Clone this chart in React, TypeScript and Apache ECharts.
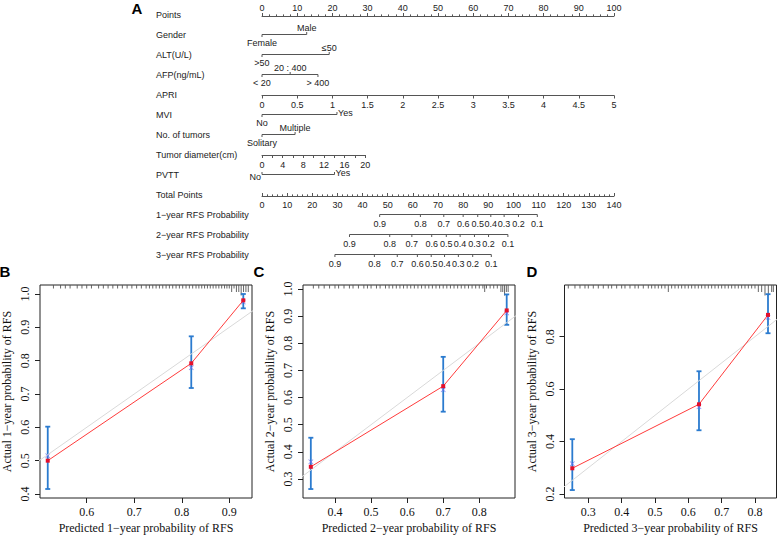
import React, { useEffect, useRef } from "react";
import * as echarts from "echarts";

// ---------------- Nomogram data ----------------
const rowNames = [
  "Points",
  "Gender",
  "ALT(U/L)",
  "AFP(ng/mL)",
  "APRI",
  "MVI",
  "No. of tumors",
  "Tumor diameter(cm)",
  "PVTT",
  "Total Points",
  "1−year RFS Probability",
  "2−year RFS Probability",
  "3−year RFS Probability",
];

const pointsRange = [0, 100];
const totalPointsRange = [0, 140];
const apriRange = [0, 5]; // APRI 0..5 spans the 0..100 points scale
const diameterRange = [0, 20]; // cm
const diameterPointsAtMax = 29.3; // points given to 20 cm

const genderLevels = ["Female", "Male"];
const genderPoints = [0, 12.7];
const altLevels = [">50", "≤50"];
const altPoints = [0, 19.1];
const afpLevels = ["< 20", "20 : 400", "> 400"];
const afpPoints = [0, 8, 15.9];
const mviLevels = ["No", "Yes"];
const mviPoints = [0, 21.3];
const tumorLevels = ["Solitary", "Multiple"];
const tumorPoints = [0, 9.4];
const pvttLevels = ["No", "Yes"];
const pvttPoints = [0, 20.6];

const probLabels = ["0.9", "0.8", "0.7", "0.6", "0.5", "0.4", "0.3", "0.2", "0.1"];
const rfs1yTotals = [46.8, 63, 72.3, 80, 85.8, 91, 96.3, 102, 109.5];
const rfs2yTotals = [34.8, 50.8, 59.6, 67.5, 73.3, 78.8, 84.5, 90.1, 97.8];
const rfs3yTotals = [29, 44.7, 53.8, 61.8, 67.3, 72.6, 78.1, 83.8, 91.2];

// ---------------- Calibration data ----------------
const b1Pred = [0.518, 0.82, 0.9295];
const b1Obs = [0.5, 0.792, 0.981];
const b1Corr = [0.515, 0.779, 0.976];
const b1Lo = [0.415, 0.718, 0.957];
const b1Hi = [0.602, 0.873, 1.0];
const b1XRange = [0.5017, 0.9478];
const b1YRange = [0.388, 1.027];
const b1XTicks = [0.6, 0.7, 0.8, 0.9];
const b1YTicks = [0.4, 0.5, 0.6, 0.7, 0.8, 0.9, 1.0];
const b1Rug = [0.53, 0.545, 0.555, 0.565, 0.58, 0.59, 0.6, 0.61, 0.625, 0.635, 0.645, 0.655, 0.665, 0.675, 0.685, 0.695, 0.705, 0.715, 0.725, 0.732, 0.739, 0.746, 0.753, 0.76, 0.767, 0.774, 0.781, 0.788, 0.795, 0.802, 0.809, 0.816, 0.823, 0.83, 0.836, 0.842, 0.848, 0.854, 0.86, 0.866, 0.872, 0.878, 0.884, 0.89, 0.895, 0.9, 0.905, 0.91, 0.915, 0.92, 0.925, 0.93, 0.935, 0.94];
const b1RugCount = [1, 1, 1, 1, 1, 1, 1, 1, 1, 1, 1, 1, 1, 1, 1, 1, 1, 1, 1, 1, 1, 1, 1, 1, 1, 1, 1, 1, 1, 1, 1, 1, 1, 1, 1, 1, 1, 1, 1, 1, 1, 1, 1, 1, 1, 1, 2, 1, 2, 2, 3, 2, 2, 2];

const c2Pred = [0.333, 0.7, 0.876];
const c2Obs = [0.345, 0.642, 0.921];
const c2Corr = [0.364, 0.629, 0.912];
const c2Lo = [0.263, 0.548, 0.868];
const c2Hi = [0.452, 0.75, 0.98];
const c2XRange = [0.3113, 0.899];
const c2YRange = [0.23, 1.0147];
const c2XTicks = [0.4, 0.5, 0.6, 0.7, 0.8];
const c2YTicks = [0.3, 0.4, 0.5, 0.6, 0.7, 0.8, 0.9, 1.0];
const c2Rug = [0.34, 0.355, 0.37, 0.385, 0.4, 0.41, 0.425, 0.44, 0.45, 0.465, 0.48, 0.49, 0.5, 0.515, 0.525, 0.54, 0.55, 0.56, 0.57, 0.58, 0.59, 0.6, 0.61, 0.62, 0.63, 0.64, 0.65, 0.66, 0.67, 0.68, 0.69, 0.7, 0.71, 0.72, 0.73, 0.74, 0.75, 0.76, 0.77, 0.78, 0.79, 0.8, 0.81, 0.815, 0.82, 0.83, 0.84, 0.85, 0.86, 0.865, 0.87, 0.875, 0.88];
const c2RugCount = [1, 1, 1, 1, 1, 1, 1, 1, 1, 1, 1, 1, 1, 1, 1, 1, 1, 1, 1, 1, 1, 1, 1, 1, 1, 1, 1, 1, 1, 1, 1, 1, 1, 1, 1, 1, 1, 1, 1, 1, 1, 1, 1, 2, 1, 1, 1, 1, 2, 2, 3, 2, 2];

const d3Pred = [0.252, 0.632, 0.839];
const d3Obs = [0.298, 0.542, 0.883];
const d3Corr = [0.315, 0.533, 0.873];
const d3Lo = [0.215, 0.443, 0.813];
const d3Hi = [0.409, 0.668, 0.962];
const d3XRange = [0.2286, 0.8645];
const d3YRange = [0.1847, 0.997];
const d3XTicks = [0.3, 0.4, 0.5, 0.6, 0.7, 0.8];
const d3YTicks = [0.2, 0.4, 0.6, 0.8];
const d3Rug = [0.24, 0.26, 0.275, 0.29, 0.3, 0.315, 0.33, 0.345, 0.36, 0.37, 0.385, 0.4, 0.41, 0.425, 0.44, 0.45, 0.465, 0.48, 0.49, 0.5, 0.51, 0.52, 0.53, 0.54, 0.55, 0.56, 0.57, 0.58, 0.59, 0.6, 0.61, 0.62, 0.63, 0.64, 0.65, 0.66, 0.67, 0.68, 0.69, 0.7, 0.71, 0.72, 0.73, 0.74, 0.75, 0.76, 0.77, 0.78, 0.79, 0.8, 0.81, 0.82, 0.83, 0.84, 0.85, 0.855];
const d3RugCount = [1, 1, 1, 1, 1, 1, 1, 1, 1, 1, 1, 1, 1, 1, 1, 1, 1, 1, 1, 1, 1, 1, 1, 2, 1, 1, 1, 1, 1, 1, 1, 1, 1, 1, 1, 1, 1, 1, 1, 1, 1, 1, 1, 1, 1, 1, 1, 1, 1, 1, 2, 2, 3, 3, 2, 2];

// ---------------- Styles / layout ----------------
const SANS = "Liberation Sans, Arial, sans-serif";
const SERIF = "Liberation Serif, Times New Roman, serif";
const NTEXT = "#222";
const NLINE = "#555";
const NOMO_LEFT = 262;
const NOMO_WIDTH = 352;
const TICK = 2.5;

const catRows = [
  { row: 1, levels: genderLevels, points: genderPoints, place: ["below", "above"] },
  { row: 2, levels: altLevels, points: altPoints, place: ["below", "above"] },
  { row: 3, levels: afpLevels, points: afpPoints, place: ["below", "above", "below"] },
  { row: 5, levels: mviLevels, points: mviPoints, place: ["below", "right"] },
  { row: 6, levels: tumorLevels, points: tumorPoints, place: ["below", "above"] },
  { row: 8, levels: pvttLevels, points: pvttPoints, place: ["left", "right"] },
];

const probRows = [
  { row: 10, totals: rfs1yTotals },
  { row: 11, totals: rfs2yTotals },
  { row: 12, totals: rfs3yTotals },
];

const panels = [
  { year: 1, pred: b1Pred, obs: b1Obs, corr: b1Corr, lo: b1Lo, hi: b1Hi, xr: b1XRange, yr: b1YRange, xt: b1XTicks, yt: b1YTicks, rug: b1Rug, rugN: b1RugCount, left: 40 },
  { year: 2, pred: c2Pred, obs: c2Obs, corr: c2Corr, lo: c2Lo, hi: c2Hi, xr: c2XRange, yr: c2YRange, xt: c2XTicks, yt: c2YTicks, rug: c2Rug, rugN: c2RugCount, left: 303 },
  { year: 3, pred: d3Pred, obs: d3Obs, corr: d3Corr, lo: d3Lo, hi: d3Hi, xr: d3XRange, yr: d3YRange, xt: d3XTicks, yt: d3YTicks, rug: d3Rug, rugN: d3RugCount, left: 564.5 },
];
const PANEL_TOP = 285;
const PANEL_W = 212;
const PANEL_H = 213;

const nomoAxisBase = {
  axisLine: { show: true, lineStyle: { color: NLINE, width: 1 } },
  splitLine: { show: false },
  axisLabel: { fontSize: 9, fontFamily: SANS, color: NTEXT },
  axisTick: { show: true, length: 3, lineStyle: { color: NLINE, width: 1 } },
};

function buildOption() {
  const grid: any[] = [
    { left: NOMO_LEFT, top: 4.5, width: NOMO_WIDTH, height: 260, containLabel: false, outerBoundsMode: "none" },
    { left: NOMO_LEFT, top: 15, width: NOMO_WIDTH, height: 1, containLabel: false, outerBoundsMode: "none" },
    { left: NOMO_LEFT, top: 94.5, width: NOMO_WIDTH, height: 1, containLabel: false, outerBoundsMode: "none" },
    { left: NOMO_LEFT, top: 154, width: (NOMO_WIDTH * diameterPointsAtMax) / pointsRange[1], height: 1, containLabel: false, outerBoundsMode: "none" },
    { left: NOMO_LEFT, top: 195, width: NOMO_WIDTH, height: 1, containLabel: false, outerBoundsMode: "none" },
  ];
  const xAxis: any[] = [
    { gridIndex: 0, type: "value", min: pointsRange[0], max: pointsRange[1], show: false },
    { gridIndex: 0, type: "value", min: totalPointsRange[0], max: totalPointsRange[1], show: false },
    {
      ...nomoAxisBase, gridIndex: 1, type: "value", position: "top", min: pointsRange[0], max: pointsRange[1], interval: 10,
      minorTick: { show: true, splitNumber: 5, length: 1.6, lineStyle: { color: NLINE, width: 1 } },
      axisLabel: { ...nomoAxisBase.axisLabel, margin: 3 },
    },
    {
      ...nomoAxisBase, gridIndex: 2, type: "value", position: "bottom", min: apriRange[0], max: apriRange[1], interval: 0.5,
      axisLabel: { ...nomoAxisBase.axisLabel, margin: 5 },
    },
    {
      ...nomoAxisBase, gridIndex: 3, type: "value", position: "bottom", min: diameterRange[0], max: diameterRange[1], interval: 2,
      axisLabel: { ...nomoAxisBase.axisLabel, margin: 5, formatter: (v: number) => (v % 4 === 0 ? String(v) : "") },
    },
    {
      ...nomoAxisBase, gridIndex: 4, type: "value", position: "bottom", min: totalPointsRange[0], max: totalPointsRange[1], interval: 10,
      axisTick: { ...nomoAxisBase.axisTick, inside: true },
      minorTick: { show: true, splitNumber: 5, length: 1.6, lineStyle: { color: NLINE, width: 1 } },
      axisLabel: { ...nomoAxisBase.axisLabel, margin: 4 },
    },
  ];
  const yAxis: any[] = [
    {
      gridIndex: 0, type: "category", data: rowNames, inverse: true,
      axisLine: { show: false }, axisTick: { show: false }, splitLine: { show: false },
      axisLabel: { interval: 0, align: "left", margin: 106, fontSize: 9, fontFamily: SANS, color: NTEXT },
    },
    { gridIndex: 1, type: "value", show: false },
    { gridIndex: 2, type: "value", show: false },
    { gridIndex: 3, type: "value", show: false },
    { gridIndex: 4, type: "value", show: false },
  ];

  const series: any[] = [
    {
      type: "custom", xAxisIndex: 0, yAxisIndex: 0, clip: false, silent: true,
      data: catRows.map((r) => [0, r.row]),
      renderItem: (params: any, api: any) => {
        const r = catRows[params.dataIndex];
        const y = api.coord([0, r.row])[1];
        const xs = r.points.map((p) => api.coord([p, r.row])[0]);
        const children: any[] = [
          { type: "line", shape: { x1: xs[0], y1: y, x2: xs[xs.length - 1], y2: y }, style: { stroke: NLINE, lineWidth: 1 } },
        ];
        r.levels.forEach((lab, k) => {
          const p = r.place[k];
          const x = xs[k];
          const dir = p === "below" ? 1 : -1;
          children.push({ type: "line", shape: { x1: x, y1: y, x2: x, y2: y + dir * TICK }, style: { stroke: NLINE, lineWidth: 1 } });
          let tx = x;
          let ty = y;
          let align = "center";
          if (p === "above") ty = y - 6.5;
          else if (p === "below") ty = y + 8;
          else if (p === "right") { tx = x + 1; ty = y - 1.5; align = "left"; }
          else { tx = x - 1; ty = y + 2.5; align = "right"; }
          children.push({ type: "text", style: { text: lab, x: tx, y: ty, align, verticalAlign: "middle", fontSize: 9, fontFamily: SANS, fill: NTEXT } });
        });
        return { type: "group", children };
      },
    },
    {
      type: "custom", xAxisIndex: 1, yAxisIndex: 0, clip: false, silent: true,
      data: probRows.map((r) => [0, r.row]),
      renderItem: (params: any, api: any) => {
        const r = probRows[params.dataIndex];
        const y = api.coord([0, r.row])[1];
        const xs = r.totals.map((t) => api.coord([t, r.row])[0]);
        const children: any[] = [
          { type: "line", shape: { x1: xs[0], y1: y, x2: xs[xs.length - 1], y2: y }, style: { stroke: NLINE, lineWidth: 1 } },
        ];
        xs.forEach((x, k) => {
          children.push({ type: "line", shape: { x1: x, y1: y, x2: x, y2: y + TICK }, style: { stroke: NLINE, lineWidth: 1 } });
          children.push({ type: "text", style: { text: probLabels[k], x, y: y + 9, align: "center", verticalAlign: "middle", fontSize: 9, fontFamily: SANS, fill: NTEXT } });
        });
        return { type: "group", children };
      },
    },
  ];

  panels.forEach((pn) => {
    const g = grid.length;
    grid.push({
      left: pn.left, top: PANEL_TOP, width: PANEL_W, height: PANEL_H, show: true,
      borderColor: "#222", borderWidth: 1, backgroundColor: "transparent", containLabel: false, outerBoundsMode: "none",
    });
    const xi = xAxis.length;
    xAxis.push({
      gridIndex: g, type: "value", min: pn.xr[0], max: pn.xr[1],
      axisLine: { show: false }, splitLine: { show: false },
      axisTick: { show: true, length: 5, customValues: pn.xt, lineStyle: { color: "#222", width: 1 } },
      axisLabel: { customValues: pn.xt, margin: 8, fontSize: 12, fontFamily: SERIF, color: "#111", formatter: (v: number) => v.toFixed(1) },
      name: `Predicted ${pn.year}−year probability of RFS`, nameLocation: "middle", nameGap: 24,
      nameTextStyle: { fontSize: 12, fontFamily: SERIF, color: "#111" },
    });
    const yi = yAxis.length;
    yAxis.push({
      gridIndex: g, type: "value", min: pn.yr[0], max: pn.yr[1],
      axisLine: { show: false }, splitLine: { show: false },
      axisTick: { show: true, length: 5, customValues: pn.yt, lineStyle: { color: "#222", width: 1 } },
      axisLabel: { customValues: pn.yt, margin: 9, rotate: 90, fontSize: 12, fontFamily: SERIF, color: "#111", formatter: (v: number) => v.toFixed(1) },
      name: `Actual ${pn.year}−year probability of RFS`, nameLocation: "middle", nameGap: 27,
      nameTextStyle: { fontSize: 12, fontFamily: SERIF, color: "#111" },
    });
    // ideal line
    series.push({
      type: "line", xAxisIndex: xi, yAxisIndex: yi, data: [[0, 0], [1, 1]], symbol: "none", clip: true, silent: true,
      lineStyle: { color: "#d9d9d9", width: 1 },
    });
    // rug of predicted values along the top
    series.push({
      type: "custom", xAxisIndex: xi, yAxisIndex: yi, clip: false, silent: true,
      data: pn.rug.map((v, i) => [v, pn.rugN[i]]),
      renderItem: (params: any, api: any) => {
        const x = api.coord([api.value(0), pn.yr[1]])[0];
        const top = params.coordSys.y;
        const len = 3.5 * api.value(1);
        return { type: "line", shape: { x1: x, y1: top, x2: x, y2: top + len }, style: { stroke: "#555", lineWidth: 0.9 } };
      },
    });
    // error bars
    series.push({
      type: "custom", xAxisIndex: xi, yAxisIndex: yi, clip: false, silent: true,
      data: pn.pred.map((p, i) => [p, pn.lo[i], pn.hi[i]]),
      renderItem: (params: any, api: any) => {
        const a = api.coord([api.value(0), api.value(1)]);
        const b = api.coord([api.value(0), api.value(2)]);
        const st = { stroke: "#2b7bcf", lineWidth: 1.8 };
        return {
          type: "group",
          children: [
            { type: "line", shape: { x1: a[0], y1: a[1], x2: b[0], y2: b[1] }, style: st },
            { type: "line", shape: { x1: a[0] - 2.5, y1: a[1], x2: a[0] + 2.5, y2: a[1] }, style: st },
            { type: "line", shape: { x1: b[0] - 2.5, y1: b[1], x2: b[0] + 2.5, y2: b[1] }, style: st },
          ],
        };
      },
    });
    // bias-corrected (blue x)
    series.push({
      type: "scatter", xAxisIndex: xi, yAxisIndex: yi, silent: true,
      data: pn.pred.map((p, i) => [p, pn.corr[i]]),
      symbol: "path://M0,1 L1,0 L5,4 L9,0 L10,1 L6,5 L10,9 L9,10 L5,6 L1,10 L0,9 L4,5 Z",
      symbolSize: 5, itemStyle: { color: "#6c6cf2" },
    });
    // apparent (red)
    series.push({
      type: "line", xAxisIndex: xi, yAxisIndex: yi, silent: true,
      data: pn.pred.map((p, i) => [p, pn.obs[i]]),
      symbol: "rect", symbolSize: 4, showSymbol: true,
      lineStyle: { color: "#ff3b3b", width: 1 }, itemStyle: { color: "#e4102c" },
    });
  });

  const letter = (t: string, x: number, y: number) => ({
    type: "text", x, y,
    style: { text: t, fontSize: 15, fontWeight: "bold", fontFamily: SANS, fill: "#000", align: "center", verticalAlign: "middle" },
  });

  return {
    animation: false,
    backgroundColor: "#fff",
    grid, xAxis, yAxis, series,
    graphic: [letter("A", 137, 8), letter("B", 5, 271), letter("C", 259, 271), letter("D", 532, 271)],
  };
}

export default function App() {
  const ref = useRef<HTMLDivElement>(null);
  useEffect(() => {
    document.body.style.margin = "0";
    const chart = echarts.init(ref.current!, null, { renderer: "svg" });
    chart.setOption(buildOption() as any);
    return () => chart.dispose();
  }, []);
  return <div ref={ref} style={{ width: 777, height: 538 }} />;
}
